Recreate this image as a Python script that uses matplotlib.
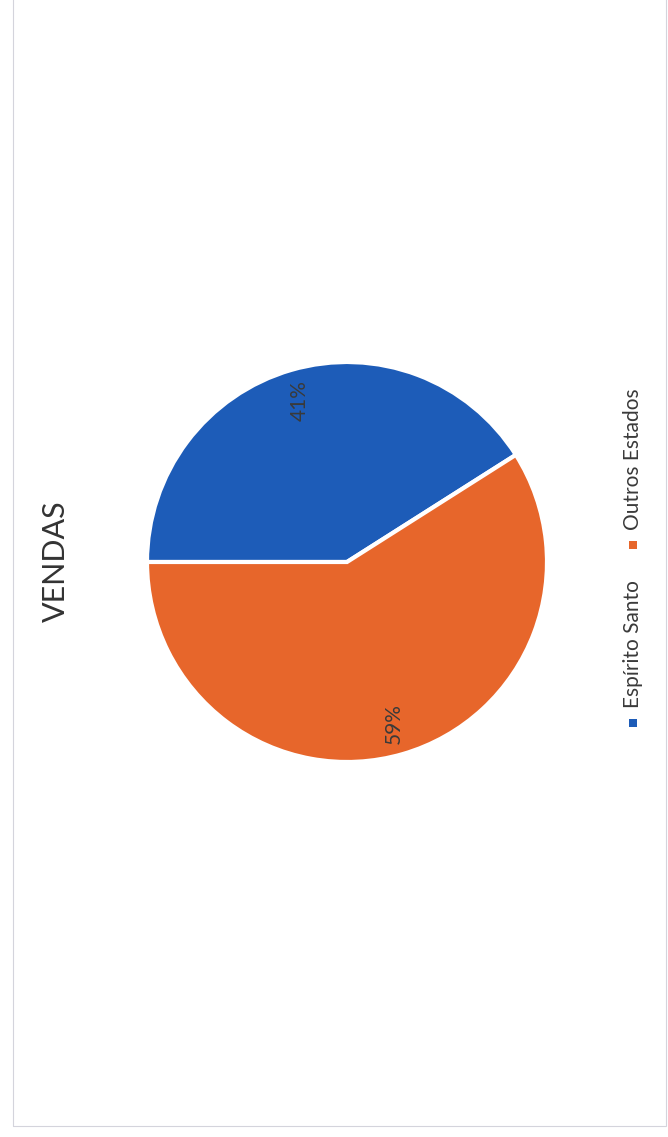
import matplotlib
matplotlib.use('Agg')
import matplotlib.pyplot as plt
from matplotlib.patches import Rectangle

plt.rcParams['font.family'] = ['Lato', 'DejaVu Sans']

categories = ['Espírito Santo', 'Outros Estados']
values = [41, 59]
colors = ['#1d5cb8', '#e7662b']
title = 'VENDAS'

W, H = 668, 1137
fig = plt.figure(figsize=(W / 100, H / 100), dpi=100)
ax = fig.add_axes([0, 0, 1, 1])
ax.axis('off')

# page is scanned rotated, so everything is turned 90 degrees
wedges, texts, autotexts = ax.pie(
    values, colors=colors, center=(347, H - 562), radius=200,
    startangle=180, counterclock=False,
    wedgeprops=dict(edgecolor='white', linewidth=3),
    autopct='%1.0f%%', pctdistance=0.84,
    textprops=dict(fontsize=15, color='#3a3a3a'))
for t in autotexts:
    t.set_rotation(90)
    t.set_ha('center')
    t.set_va('center')
ax.set_xlim(0, W)
ax.set_ylim(0, H)
ax.set_aspect('auto')

ax.text(56, H - 561, title, rotation=90, ha='center', va='center',
        fontsize=22, color='#333333')

# legend drawn by hand (rotated)
legend_y = [H - 723, H - 545]
for cat, col, y in zip(categories, colors, legend_y):
    ax.add_patch(Rectangle((629, y - 4), 8, 8, color=col, lw=0))
    ax.text(633, y + 15, cat, rotation=90, ha='center', va='bottom',
            fontsize=15, color='#3a3a3a')

# faint frame of the chart area
ax.add_patch(Rectangle((13, H - 1126), 653, 1200, fill=False,
                       edgecolor='#d4d4dc', lw=0.8))

fig.savefig('out.png', dpi=100, facecolor='white')
